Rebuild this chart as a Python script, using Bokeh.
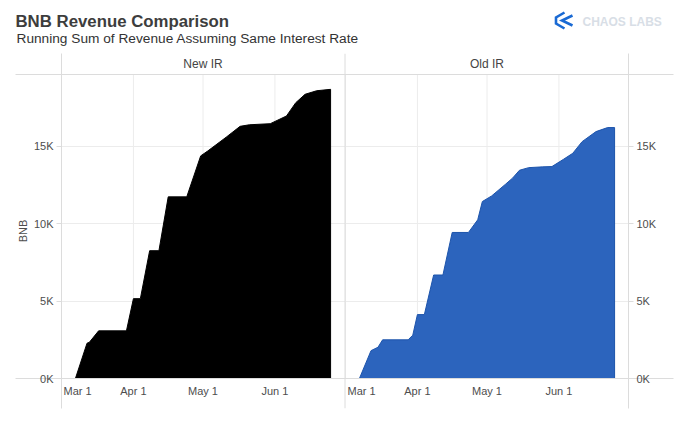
import pandas as pd
from bokeh.plotting import figure
from bokeh.layouts import column
from bokeh.models import Range1d, FixedTicker, Label, ColumnDataSource, Span, LinearAxis
from bokeh.core.properties import value
from bokeh.embed import file_html
from bokeh.resources import INLINE

# ---------------- data ----------------
chart_title = "BNB Revenue Comparison"
chart_subtitle = "Running Sum of Revenue Assuming Same Interest Rate"
panel_names = ["New IR", "Old IR"]
y_axis_title = "BNB"

new_ir_dates = ["2023-03-07", "2023-03-12", "2023-03-13", "2023-03-17", "2023-03-29",
                "2023-04-01", "2023-04-04", "2023-04-08", "2023-04-12", "2023-04-16",
                "2023-04-24", "2023-04-30", "2023-05-03", "2023-05-11", "2023-05-17",
                "2023-05-21", "2023-05-30", "2023-06-06", "2023-06-10", "2023-06-14",
                "2023-06-19", "2023-06-25"]
new_ir_values = [0, 2280, 2340, 3080, 3080,
                 5160, 5160, 8260, 8260, 11740,
                 11740, 14390, 14700, 15600, 16300,
                 16400, 16470, 16970, 17830, 18370,
                 18600, 18690]

old_ir_dates = ["2023-03-07", "2023-03-12", "2023-03-15", "2023-03-17", "2023-03-28",
                "2023-03-30", "2023-04-01", "2023-04-04", "2023-04-08", "2023-04-12",
                "2023-04-16", "2023-04-23", "2023-04-27", "2023-04-29", "2023-05-03",
                "2023-05-09", "2023-05-12", "2023-05-15", "2023-05-19", "2023-05-25",
                "2023-05-29", "2023-06-03", "2023-06-07", "2023-06-11", "2023-06-17",
                "2023-06-22", "2023-06-25"]
old_ir_values = [0, 1800, 2020, 2500, 2500,
                 2800, 4130, 4130, 6690, 6690,
                 9440, 9440, 10260, 11440, 11800,
                 12560, 12950, 13460, 13630, 13680,
                 13700, 14170, 14560, 15310, 15960,
                 16220, 16220]

x_tick_dates = ["2023-03-01", "2023-04-01", "2023-05-01", "2023-06-01"]
x_tick_labels = ["Mar 1", "Apr 1", "May 1", "Jun 1"]
y_ticks = [0, 5000, 10000, 15000]
y_tick_labels = ["0K", "5K", "10K", "15K"]
x_domain = ["2023-03-01", "2023-07-01"]
y_max = 19650

# logo decoration (header pixel space)
logo_text = "CHAOS LABS"
logo_outer_x = [564, 555.5, 555.5, 564]
logo_outer_y = [12, 17, 23, 28]
logo_inner_x = [572, 561.5, 572]
logo_inner_y = [15, 20, 25]

# ---------------- style / layout ----------------
FONT = "Liberation Sans"
TXT = "#4d4d4d"
RULE = "#dcdcdc"
GRID = "#ececec"

W, H = 690, 424
HEADER_H = 53
FRAME_LEFT, FRAME_RIGHT = 61, 628
RULE_LEFT, RULE_RIGHT = 15, 673
PLOT_TOP, PLOT_BOTTOM, FRAME_BOTTOM = 74, 378, 408
PANEL_PX, GAP_PX = 283, 1
TICK_OUT, LABEL_GAP = 5, 3

t0 = pd.Timestamp(x_domain[0])
span_days = (pd.Timestamp(x_domain[1]) - t0) / pd.Timedelta(days=1)
gap_days = span_days * GAP_PX / PANEL_PX
panel_offset = [0.0, span_days + gap_days]


def day_pos(dates, k):
    return [(pd.Timestamp(d) - t0) / pd.Timedelta(days=1) + panel_offset[k] for d in dates]


upp = y_max / (PLOT_BOTTOM - PLOT_TOP)
y_lo = -(FRAME_BOTTOM - PLOT_BOTTOM) * upp
y_hi = y_max + (PLOT_TOP - HEADER_H) * upp


def no_frame_align(fig):
    try:
        fig.frame_align = False
    except Exception:
        pass


# ---------------- main figure ----------------
p = figure(width=W, height=H - HEADER_H,
           x_range=Range1d(0, 2 * span_days + gap_days), y_range=Range1d(y_lo, y_hi),
           x_axis_location=None, y_axis_location="left",
           toolbar_location=None, output_backend="svg",
           min_border_left=FRAME_LEFT, min_border_right=W - FRAME_RIGHT,
           min_border_top=0, min_border_bottom=H - FRAME_BOTTOM)
no_frame_align(p)
p.outline_line_color = None
p.background_fill_color = "white"
p.border_fill_color = "white"
p.xgrid.visible = False

yt = FixedTicker(ticks=y_ticks, minor_ticks=[0, y_max])
overrides = dict(zip(y_ticks, y_tick_labels))
p.yaxis.ticker = yt
p.ygrid.ticker = yt
p.ygrid.grid_line_color = GRID
p.add_layout(LinearAxis(ticker=yt), "right")

rule_ext = [FRAME_LEFT - RULE_LEFT, RULE_RIGHT - FRAME_RIGHT]
for k, ax in enumerate(p.yaxis):
    ax.major_label_overrides = overrides
    ax.axis_line_color = RULE
    ax.major_tick_in = 0
    ax.major_tick_out = TICK_OUT
    ax.major_tick_line_color = RULE
    ax.minor_tick_in = 0
    ax.minor_tick_out = rule_ext[k]
    ax.minor_tick_line_color = RULE
    # labels are placed after the longest tick; pull them back next to the short ones
    ax.major_label_standoff = LABEL_GAP - (rule_ext[k] - TICK_OUT)
    ax.major_label_text_font = FONT
    ax.major_label_text_font_size = "11px"
    ax.major_label_text_color = TXT
p.yaxis[0].axis_label = y_axis_title
p.yaxis[0].axis_label_text_font = FONT
p.yaxis[0].axis_label_text_font_size = "11px"
p.yaxis[0].axis_label_text_font_style = "normal"
p.yaxis[0].axis_label_text_color = TXT
p.yaxis[0].axis_label_standoff = 2

# month grid lines inside each panel
gx = day_pos(x_tick_dates, 0) + day_pos(x_tick_dates, 1)
p.segment(x0=gx, y0=0, x1=gx, y1=y_max, line_color=GRID, line_width=1)

# areas
series = [(new_ir_dates, new_ir_values, "#000000", "#000000"),
          (old_ir_dates, old_ir_values, "#2c64bd", "#1d54ab")]
for k, (dates, vals, fill, edge) in enumerate(series):
    xs = day_pos(dates, k)
    p.patch(x=xs + [xs[-1], xs[0]], y=list(vals) + [0, 0],
            fill_color=fill, line_color=edge, line_width=1)

# facet rules
p.add_layout(Span(location=0, dimension="width", line_color=RULE, line_width=1))
p.add_layout(Span(location=y_max, dimension="width", line_color=RULE, line_width=1))
p.add_layout(Span(location=span_days + gap_days / 2, dimension="height",
                  line_color=RULE, line_width=1))

# panel headers
centers = [panel_offset[0] + span_days / 2, panel_offset[1] + span_days / 2]
p.text(x=centers, y=[y_max, y_max], text=panel_names, y_offset=-(PLOT_TOP - HEADER_H) / 2,
       text_align="center", text_baseline="middle", text_font=value(FONT),
       text_font_size="12px", text_color="#444444")

# x tick labels (first of each panel flush with the panel edge)
n = len(x_tick_labels)
src = ColumnDataSource(dict(
    x=gx, text=x_tick_labels * 2,
    align=(["left"] + ["center"] * (n - 1)) * 2,
    xoff=([2] + [0] * (n - 1)) * 2))
p.text(x="x", y=0, text="text", source=src, text_align="align", x_offset="xoff",
       y_offset=6, text_baseline="top", text_font=value(FONT), text_font_size="11px",
       text_color=TXT)

# ---------------- header ----------------
hdr = figure(width=W, height=HEADER_H, x_range=Range1d(0, W),
             y_range=Range1d(HEADER_H, 0), toolbar_location=None, output_backend="svg",
             min_border=0, x_axis_location=None, y_axis_location=None)
no_frame_align(hdr)
hdr.outline_line_color = None
hdr.grid.visible = False
hdr.add_layout(Label(x=15, y=21, text=chart_title, text_font=FONT, text_font_size="16.8px",
                     text_font_style="bold", text_color="#3d3d3d",
                     text_baseline="alphabetic"))
hdr.add_layout(Label(x=16, y=38, text=chart_subtitle, text_font=FONT,
                     text_font_size="13.7px", text_color="#333333",
                     text_baseline="alphabetic"))
hdr.multi_line(xs=[logo_outer_x, logo_inner_x], ys=[logo_outer_y, logo_inner_y],
               line_color="#1a6ad4", line_width=2.6, line_join="miter")
hdr.add_layout(Label(x=582, y=21.5, text=logo_text, text_font=FONT, text_font_size="12px",
                     text_font_style="bold", text_color="#d8dee6",
                     text_baseline="alphabetic"))

layout = column(hdr, p, spacing=0)

open("out.html", "w").write(file_html(layout, INLINE))
